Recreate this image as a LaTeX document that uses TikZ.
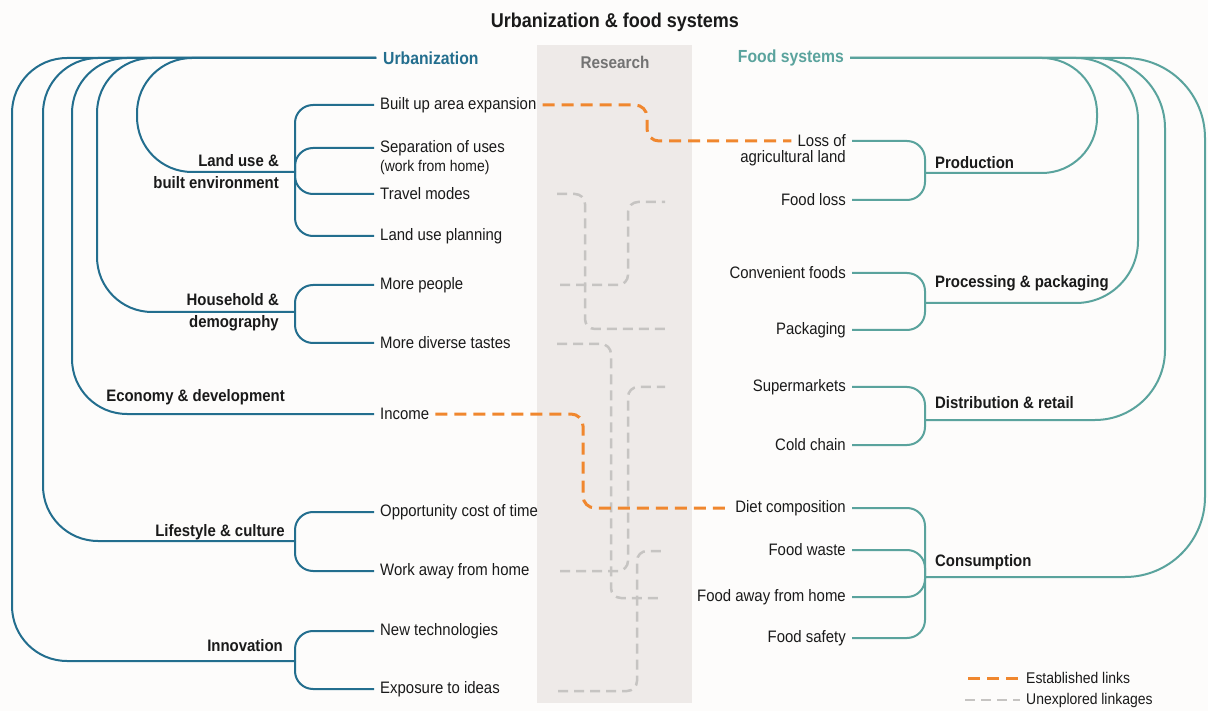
\documentclass[tikz,border=0pt]{standalone}
\usepackage{fontspec}
\setmainfont{Liberation Sans}[FakeStretch=0.9]
\usepackage{tikz}
\usetikzlibrary{calc}

\definecolor{paper}{HTML}{FDFCFB}
\definecolor{urbblue}{HTML}{236E8E}
\definecolor{foodteal}{HTML}{5AA39D}
\definecolor{linkorange}{HTML}{F0872E}
\definecolor{linkgray}{HTML}{C6C4C2}
\definecolor{researchbg}{HTML}{EEEAE8}
\definecolor{researchtxt}{HTML}{737373}
\definecolor{textdark}{HTML}{1A1A1A}

\begin{document}
\begin{tikzpicture}[x=1pt,y=-1pt,
  urbline/.style={urbblue, line width=2pt},
  foodline/.style={foodteal, line width=2pt},
  estab/.style={linkorange, line width=3pt, dash pattern=on 12pt off 7pt, rounded corners=12pt},
  unexpl/.style={linkgray, line width=2.5pt, dash pattern=on 10pt off 6pt, rounded corners=10pt},
  item/.style={text=textdark, font=\fontsize{16.6}{19}\selectfont, inner xsep=6pt, inner ysep=1pt},
  group/.style={text=textdark, font=\fontsize{16.6}{22}\selectfont\bfseries, align=right, inner xsep=6pt, inner ysep=1pt}]

\useasboundingbox[fill=paper] (0,0) rectangle (1208,711);

% research column
\fill[researchbg] (537,45) rectangle (692,703);
\node[font=\fontsize{17}{19}\selectfont\bfseries, text=researchtxt] (res) at (615,62) {Research};
\node[font=\fontsize{20}{23}\selectfont\bfseries, text=textdark] (title) at (615,22) {Urbanization \& food systems};

\node[font=\fontsize{17.5}{20}\selectfont\bfseries, text=urbblue, anchor=west, inner xsep=7pt] (urb) at (376,58) {Urbanization};
\node[font=\fontsize{17.5}{20}\selectfont\bfseries, text=foodteal, anchor=east, inner xsep=6pt] (food) at (850,58) {Food systems};

% urbanization items
\node[item, anchor=west] (bua) at (374,105) {Built up area expansion};
\node[item, anchor=west] (sep) at (374,148) {Separation of uses};
\node[item, anchor=west, font=\fontsize{15.5}{18}\selectfont] (wfh) at (374,167) {(work from home)};
\node[item, anchor=west] (trav) at (374,194) {Travel modes};
\node[item, anchor=west] (lup) at (374,236) {Land use planning};
\node[item, anchor=west] (mp) at (374,285) {More people};
\node[item, anchor=west] (mdt) at (374,343) {More diverse tastes};
\node[item, anchor=west] (inc) at (374,414) {Income};
\node[item, anchor=west] (oct) at (374,512) {Opportunity cost of time};
\node[item, anchor=west] (wah) at (374,571) {Work away from home};
\node[item, anchor=west] (nt) at (374,631) {New technologies};
\node[item, anchor=west] (eti) at (374,689) {Exposure to ideas};

\coordinate (lu) at (295,172);
\coordinate (hh) at (295,312);
\coordinate (ls) at (295,541);
\coordinate (inn) at (295,661);

\node[group, anchor=east] (lulab) at (285,172) {Land use \&\\built environment};
\node[group, anchor=east] (hhlab) at (285,312) {Household \&\\demography};
\node[group, anchor=east] (eclab) at (291,397) {Economy \& development};
\node[group, anchor=east] (lslab) at (291,532) {Lifestyle \& culture};
\node[group, anchor=east] (innlab) at (289,646) {Innovation};

\draw[urbline, rounded corners=55pt] (urb.west) -- (137,58) -- (137,172) -- (lu);
\draw[urbline, rounded corners=55pt] (urb.west) -- (97,58) -- (97,312) -- (hh);
\draw[urbline, rounded corners=55pt] (urb.west) -- (72,58) -- (72,414) -- (inc.west);
\draw[urbline, rounded corners=55pt] (urb.west) -- (43,58) -- (43,541) -- (ls);
\draw[urbline, rounded corners=55pt] (urb.west) -- (12,58) -- (12,661) -- (inn);

\draw[urbline, rounded corners=18pt] (bua.west) -- (295,105) -- (lu);
\draw[urbline, rounded corners=18pt] (sep.west) -- (295,148) -- (lu);
\draw[urbline, rounded corners=18pt] (trav.west) -- (295,194) -- (lu);
\draw[urbline, rounded corners=18pt] (lup.west) -- (295,236) -- (lu);
\draw[urbline, rounded corners=18pt] (mp.west) -- (295,285) -- (hh);
\draw[urbline, rounded corners=18pt] (mdt.west) -- (295,343) -- (hh);
\draw[urbline, rounded corners=18pt] (oct.west) -- (295,512) -- (ls);
\draw[urbline, rounded corners=18pt] (wah.west) -- (295,571) -- (ls);
\draw[urbline, rounded corners=18pt] (nt.west) -- (295,631) -- (inn);
\draw[urbline, rounded corners=18pt] (eti.west) -- (295,689) -- (inn);

% food system items
\node[item, anchor=east] (loss) at (852,141) {Loss of};
\node[item, anchor=east] (agl) at (852,158) {agricultural land};
\node[item, anchor=east] (fl) at (852,200) {Food loss};
\node[item, anchor=east] (cf) at (852,273) {Convenient foods};
\node[item, anchor=east] (pkg) at (852,330) {Packaging};
\node[item, anchor=east] (sm) at (852,387) {Supermarkets};
\node[item, anchor=east] (cc) at (852,445) {Cold chain};
\node[item, anchor=east] (dc) at (852,508) {Diet composition};
\node[item, anchor=east] (fw) at (852,550) {Food waste};
\node[item, anchor=east] (fafh) at (852,597) {Food away from home};
\node[item, anchor=east] (fsaf) at (852,638) {Food safety};

\coordinate (prod) at (925,173);
\coordinate (proc) at (925,303);
\coordinate (dist) at (925,420);
\coordinate (cons) at (925,577);

\node[group, anchor=west, align=left] (prodlab) at (929,163) {Production};
\node[group, anchor=west, align=left] (proclab) at (929,283) {Processing \& packaging};
\node[group, anchor=west, align=left] (distlab) at (929,403) {Distribution \& retail};
\node[group, anchor=west, align=left] (conslab) at (929,562) {Consumption};

\draw[foodline, rounded corners=55pt] (food.east) -- (1097,58) -- (1097,173) -- (prod);
\draw[foodline, rounded corners=62pt] (food.east) -- (1138,58) -- (1138,303) -- (proc);
\draw[foodline, rounded corners=70pt] (food.east) -- (1165,58) -- (1165,420) -- (dist);
\draw[foodline, rounded corners=80pt] (food.east) -- (1205,58) -- (1205,577) -- (cons);

\draw[foodline, rounded corners=18pt] (loss.east) -- (925,141) -- (prod);
\draw[foodline, rounded corners=18pt] (fl.east) -- (925,200) -- (prod);
\draw[foodline, rounded corners=18pt] (cf.east) -- (925,273) -- (proc);
\draw[foodline, rounded corners=18pt] (pkg.east) -- (925,330) -- (proc);
\draw[foodline, rounded corners=18pt] (sm.east) -- (925,387) -- (dist);
\draw[foodline, rounded corners=18pt] (cc.east) -- (925,445) -- (dist);
\draw[foodline, rounded corners=18pt] (dc.east) -- (925,508) -- (cons);
\draw[foodline, rounded corners=18pt] (fw.east) -- (925,550) -- (cons);
\draw[foodline, rounded corners=18pt] (fafh.east) -- (925,597) -- (cons);
\draw[foodline, rounded corners=18pt] (fsaf.east) -- (925,638) -- (cons);

% unexplored linkages
\coordinate (ga) at (557,194); \coordinate (gaa) at (665,329);
\coordinate (gb) at (560,285); \coordinate (gbb) at (665,202);
\coordinate (gc) at (557,344); \coordinate (gcc) at (658,598);
\coordinate (gd) at (560,571); \coordinate (gdd) at (665,387);
\coordinate (ge) at (558,691); \coordinate (gee) at (663,551);
\draw[unexpl] (ga) -- (585,194) -- (585,329) -- (gaa);
\draw[unexpl] (gb) -- (628,285) -- (628,202) -- (gbb);
\draw[unexpl] (gc) -- (611,344) -- (611,598) -- (gcc);
\draw[unexpl] (gd) -- (628,571) -- (628,387) -- (gdd);
\draw[unexpl] (ge) -- (637,691) -- (637,551) -- (gee);

% established links
\draw[estab] (bua.east) -- (647,105) -- (647,141) -- (loss.west);
\draw[estab] (inc.east) -- (583,414) -- (583,508) -- (dc.west);

% legend
\coordinate (lgo) at (968,678);
\coordinate (lgg) at (965,700);
\node[item, anchor=west, font=\fontsize{15.5}{18}\selectfont] (lgest) at (1020,678) {Established links};
\node[item, anchor=west, font=\fontsize{15.5}{18}\selectfont] (lgunx) at (1020,700) {Unexplored linkages};
\draw[estab] (lgo) -- (lgest.west);
\draw[unexpl] (lgg) -- (lgunx.west);
\end{tikzpicture}
\end{document}
